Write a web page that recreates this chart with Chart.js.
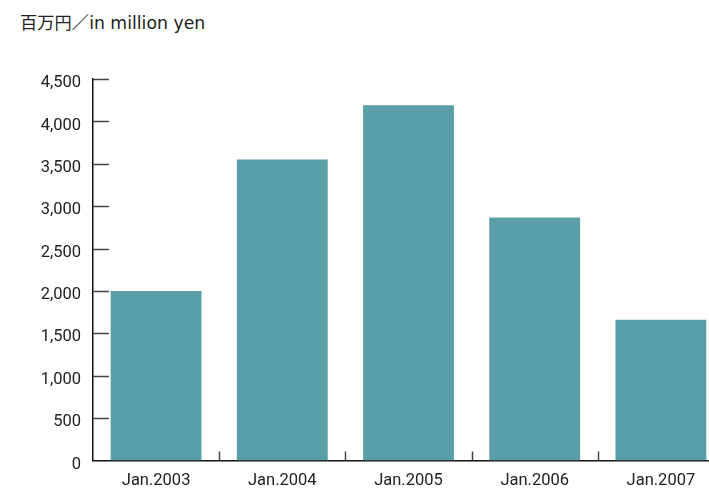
<!DOCTYPE html>
<html>
<head>
<meta charset="utf-8">
<script src="https://cdn.jsdelivr.net/npm/chart.js@4.4.1/dist/chart.umd.min.js"></script>
<style>
  html, body { margin: 0; padding: 0; background: #fff; overflow: hidden; }
  .wrap { position: relative; width: 724px; height: 491px; }
  .unidad {
    position: absolute; left: 20px; top: 9px;
    font: 17.3px "DejaVu Sans", "Noto Sans CJK JP", sans-serif; color: #222;
  }
  canvas { position: absolute; left: 0; top: 0; }
</style>
</head>
<body>
<div class="wrap">
  <div class="unidad">百万円／in million yen</div>
  <canvas id="chartVentas" width="724" height="491"></canvas>
</div>
<script>
const PERIODOS = ['Jan.2003', 'Jan.2004', 'Jan.2005', 'Jan.2006', 'Jan.2007'];
const VALORES  = [2000, 3550, 4190, 2865, 1660];
const Y_TICKS  = [0, 500, 1000, 1500, 2000, 2500, 3000, 3500, 4000, 4500];

const BAR_COLOR = '#5a9fa7';
const FONT = 'Roboto, sans-serif';

// marcas cortas hacia dentro del área (eje y y separadores de categoría)
const marcasInternas = {
  id: 'marcasInternas',
  afterDraw(chart) {
    const { ctx, chartArea, scales } = chart;
    ctx.save();
    ctx.strokeStyle = '#444';
    ctx.lineWidth = 1.5;
    ctx.beginPath();
    Y_TICKS.forEach(v => {
      if (v === 0) return;
      const y = Math.round(scales.y.getPixelForValue(v)) + 0.5;
      ctx.moveTo(chartArea.left, y);
      ctx.lineTo(chartArea.left + 16, y);
    });
    for (let i = 1; i < PERIODOS.length; i++) {
      const x = Math.round((scales.x.getPixelForValue(i - 1) + scales.x.getPixelForValue(i)) / 2) + 0.5;
      ctx.moveTo(x, chartArea.bottom);
      ctx.lineTo(x, chartArea.bottom - 9);
    }
    ctx.stroke();
    ctx.restore();
  }
};

new Chart(document.getElementById('chartVentas'), {
  type: 'bar',
  data: {
    labels: PERIODOS,
    datasets: [{
      data: VALORES,
      backgroundColor: BAR_COLOR,
      borderWidth: 0,
      barPercentage: 0.72,
      categoryPercentage: 1,
    }],
  },
  options: {
    responsive: false,
    animation: false,
    layout: { padding: { top: 79, left: 0, right: 0, bottom: 0 } },
    plugins: { legend: { display: false }, tooltip: { enabled: false } },
    scales: {
      x: {
        grid: { display: false, drawTicks: false },
        border: { display: true, color: '#111', width: 1.5 },
        ticks: { color: '#222', font: { family: FONT, size: 16.5 }, padding: 10, maxRotation: 0 },
        afterFit: s => { s.height = 30.5; },
      },
      y: {
        min: 0, max: 4500,
        afterBuildTicks: s => { s.ticks = Y_TICKS.map(v => ({ value: v })); },
        grid: { display: false, drawTicks: false },
        border: { display: true, color: '#111', width: 1.5 },
        ticks: {
          color: '#222', font: { family: FONT, size: 16.5 }, padding: 12, labelOffset: 4,
          callback: v => v.toLocaleString('en-US'),
        },
        afterFit: s => { s.width = 93; },
      },
    },
  },
  plugins: [marcasInternas],
});
</script>
</body>
</html>
